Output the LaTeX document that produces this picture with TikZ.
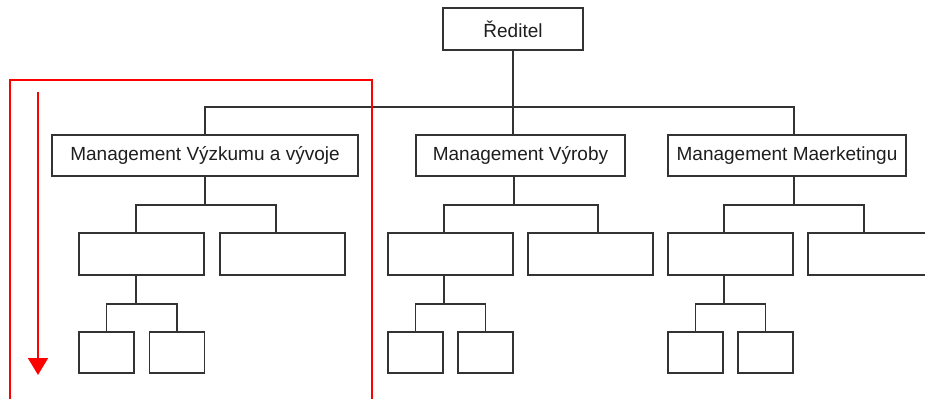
\documentclass[tikz,border=0pt]{standalone}
\usepackage{fontspec}
\setmainfont{Liberation Sans}
\usetikzlibrary{arrows.meta}
\definecolor{linegray}{HTML}{333333}
\definecolor{txtgray}{HTML}{1E1E1E}
\definecolor{redframe}{HTML}{FF0000}
\tikzset{
  box/.style={draw=linegray, line width=1.2pt, fill=white, inner sep=0pt,
    font=\fontsize{19}{22}\selectfont, text=txtgray},
  topbox/.style={box, minimum height=41pt},
  subbox/.style={box, minimum width=125pt, minimum height=42pt},
  smallbox/.style={box, minimum width=55pt, minimum height=41pt},
  conn/.style={draw=linegray, line width=1.2pt},
  redline/.style={draw=redframe, line width=1.6pt}
}
\begin{document}
\begin{tikzpicture}[x=1pt,y=-1pt]
\useasboundingbox (0,0) rectangle (925,399);
\fill[white] (0,0) rectangle (925,399);

% nodes
\node[box, minimum width=140pt, minimum height=42pt] (R) at (513,29) {Ředitel};
\node[topbox, minimum width=306pt] (M1) at (205,155.5) {Management Výzkumu a vývoje};
\node[topbox, minimum width=209pt] (M2) at (520.5,155.5) {Management Výroby};
\node[topbox, minimum width=238pt] (M3) at (787,155.5) {Management Maerketingu};

\node[subbox] (E) at (141.5,254) {};
\node[subbox] (F) at (282.5,254) {};
\node[subbox] (A) at (450.5,254) {};
\node[subbox] (B) at (590.5,254) {};
\node[subbox] (C) at (730.5,254) {};
\node[subbox] (D) at (870.5,254) {};

\node[smallbox] (E1) at (106.5,352.5) {};
\node[smallbox] (E2) at (177,352.5) {};
\node[smallbox] (A1) at (415.5,352.5) {};
\node[smallbox] (A2) at (485.5,352.5) {};
\node[smallbox] (C1) at (695.5,352.5) {};
\node[smallbox] (C2) at (765.5,352.5) {};

% level 0 -> 1
\coordinate (bus3) at (794,107);
\draw[conn] (R.south) -- (R.south |- M2.north);
\draw[conn] (M1.north) |- (bus3) -- (bus3 |- M3.north);

% level 1 -> 2
\coordinate (hE) at (136,205);
\coordinate (hF) at (276,205);
\draw[conn] (M1.south) -- (M1.south |- hE);
\draw[conn] (hE |- E.north) |- (hF) -- (hF |- F.north);

\coordinate (vM2) at (514,205);
\coordinate (hA) at (444,205);
\coordinate (hB) at (598,205);
\draw[conn] (vM2 |- M2.south) -- (vM2);
\draw[conn] (hA |- A.north) |- (hB) -- (hB |- B.north);

\coordinate (vM3) at (794,205);
\coordinate (hC) at (724,205);
\coordinate (hD) at (864,205);
\draw[conn] (vM3 |- M3.south) -- (vM3);
\draw[conn] (hC |- C.north) |- (hD) -- (hD |- D.north);

% level 2 -> 3
\coordinate (sE) at (136,304);
\draw[conn] (sE |- E.south) -- (sE);
\draw[conn] (E1.north) |- (sE) -| (E2.north);

\coordinate (sA) at (444,304);
\draw[conn] (sA |- A.south) -- (sA);
\draw[conn] (A1.north) |- (sA) -| (A2.north);

\coordinate (sC) at (724,304);
\draw[conn] (sC |- C.south) -- (sC);
\draw[conn] (C1.north) |- (sC) -| (C2.north);

% red frame and arrow
\coordinate (fTL) at (10,80);
\coordinate (fTR) at (372,80);
\coordinate (fBL) at (10,399);
\coordinate (fBR) at (372,399);
\draw[redline] (fBL) -- (fTL) -- (fTR) -- (fBR);
\coordinate (arS) at (38,92);
\coordinate (arE) at (38,375);
\draw[redline, -{Triangle[width=20pt,length=17pt]}] (arS) -- (arE);
\end{tikzpicture}
\end{document}
